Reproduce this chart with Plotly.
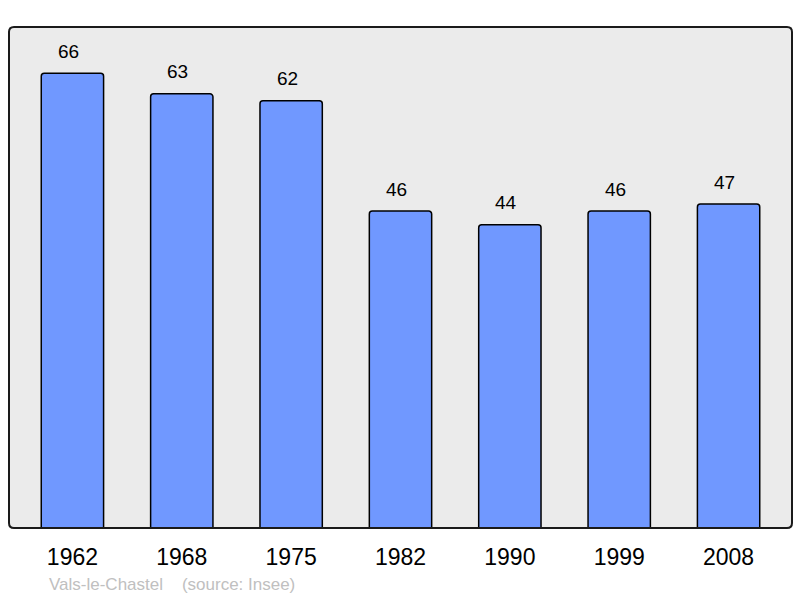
import plotly.graph_objects as go

years = ["1962", "1968", "1975", "1982", "1990", "1999", "2008"]
population = [66, 63, 62, 46, 44, 46, 47]
caption = "Vals-le-Chastel    (source: Insee)"

fig = go.Figure()
fig.add_trace(go.Bar(
    x=years, y=population,
    width=0.57,
    marker=dict(color="#7098ff", line=dict(color="#000000", width=1.5), cornerradius=3),
    hoverinfo="skip",
))

for i, v in enumerate(population):
    fig.add_annotation(x=i, y=v, text=str(v), showarrow=False, yshift=22, xshift=-4,
                       font=dict(family="Liberation Sans, Arial", size=19, color="#000000"))

fig.add_annotation(xref="paper", yref="paper", x=(47 - 9) / 783, y=-(584 - 528) / 501,
                   xanchor="left", yanchor="middle", text=caption, showarrow=False,
                   font=dict(family="Liberation Sans, Arial", size=17, color="#c0c0c0"))

# rounded frame around the plotting area (paper coordinates)
rx, ry = 5 / 783, 5 / 501
frame = (f"M {rx},0 L {1-rx},0 Q 1,0 1,{ry} L 1,{1-ry} Q 1,1 {1-rx},1 "
         f"L {rx},1 Q 0,1 0,{1-ry} L 0,{ry} Q 0,0 {rx},0 Z")
fig.add_shape(type="path", xref="paper", yref="paper", path=frame,
              line=dict(color="#1a1a1a", width=2), layer="above")

fig.update_layout(
    width=800, height=598,
    margin=dict(l=9, r=8, t=27, b=70),
    paper_bgcolor="#ffffff",
    plot_bgcolor="#ebebeb",
    showlegend=False,
    xaxis=dict(type="category", range=[-0.58, 6.58], showgrid=False, zeroline=False,
               ticks="outside", ticklen=8, tickcolor="rgba(0,0,0,0)",
               tickfont=dict(family="Liberation Sans, Arial", size=23, color="#000000")),
    yaxis=dict(range=[0, 72.7], showgrid=False, zeroline=False, showticklabels=False),
)

fig.write_html("out.html", config={"displayModeBar": False},
               post_script="document.body.style.margin='0';document.body.style.overflow='hidden';")
